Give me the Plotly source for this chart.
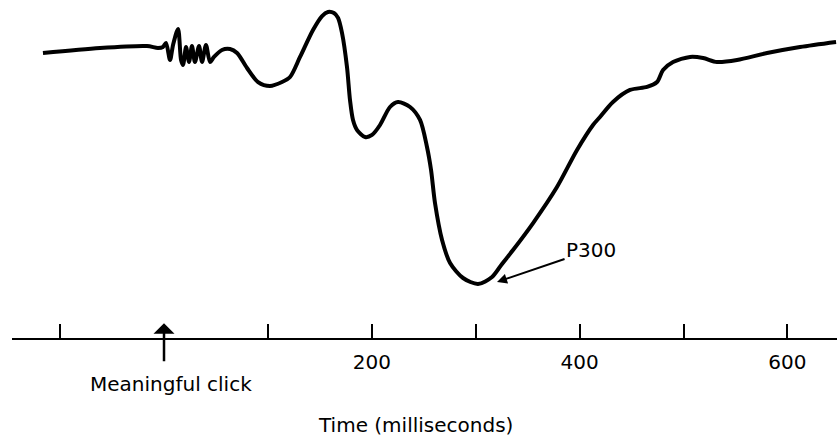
import plotly.graph_objects as go

# Time after the click (ms) and averaged evoked-potential amplitude (µV, positive plotted downward)
time_ms = [-116.5, -61.6, -16.4, -5.8, -1.0, 1.9, 5.8, 8.7, 13.5, 16.4, 18.3, 21.2, 24.1,
           26.9, 29.8, 33.7, 36.6, 40.4, 44.3, 48.1, 55.8, 63.5, 70.3, 79.9, 90.5, 102.0,
           113.6, 121.3, 130.9, 143.4, 152.1, 157.8, 163.6, 167.5, 171.3, 176.1, 179.0,
           181.9, 185.8, 193.5, 200.2, 207.9, 217.5, 225.2, 236.8, 246.4, 253.1, 257.0,
           260.8, 267.6, 275.3, 287.8, 302.2, 315.7, 325.3, 335.9, 355.2, 378.2, 397.5,
           412.9, 419.6, 432.1, 448.5, 464.9, 474.5, 480.3, 489.9, 506.3, 518.8, 532.2,
           551.5, 580.4, 612.1, 646.8]
amplitude = [0.25, -0.17, -0.33, -0.17, -0.25, -0.58, 0.83, -0.42, -1.75, 0.83, 1.25, -0.25, 1.0,
             -0.33, 1.0, -0.33, 1.0, -0.42, 1.0, 0.58, 0.0, -0.08, 0.25, 1.5, 2.67, 3.0,
             2.67, 2.25, 0.58, -1.67, -2.83, -3.17, -3.08, -2.67, -1.42, 1.42, 4.17,
             5.83, 6.67, 7.25, 7.08, 6.25, 4.75, 4.33, 4.75, 5.83, 8.08, 10.0,
             12.75, 15.83, 17.75, 19.0, 19.5, 18.92, 17.83, 16.67, 14.42, 11.42, 8.33,
             6.25, 5.58, 4.33, 3.33, 3.08, 2.67, 1.67, 1.0, 0.58, 0.67, 1.0,
             0.83, 0.25, -0.25, -0.67]

tick_values = [-100, 100, 200, 300, 400, 500, 600]
tick_labels = ["", "", "200", "", "400", "", "600"]

FONT = "DejaVu Sans"

fig = go.Figure()
fig.add_trace(go.Scatter(
    x=time_ms, y=amplitude, mode="lines",
    line=dict(color="black", width=4, shape="spline", smoothing=0.8),
    hoverinfo="skip", showlegend=False,
))

fig.update_layout(
    width=837, height=437,
    margin=dict(l=12, r=0, t=0, b=99),
    paper_bgcolor="white", plot_bgcolor="white",
    font=dict(family=FONT, size=20, color="black"),
    xaxis=dict(
        range=[-146.3, 647.7],
        showgrid=False, zeroline=False,
        showline=True, linecolor="black", linewidth=2,
        ticks="inside", ticklen=14, tickwidth=2, tickcolor="black",
        tickvals=tick_values, ticktext=tick_labels,
        tickfont=dict(family=FONT, size=20, color="black"),
        ticklabelstandoff=5,
    ),
    yaxis=dict(range=[24.0, -4.1667], visible=False),
    annotations=[
        # stimulus arrow at time zero
        dict(x=0, y=0.044, xref="x", yref="paper", text=" ",
             showarrow=True, arrowhead=1, arrowsize=1.4, arrowwidth=2.5,
             arrowcolor="black", ax=0, ay=42, font=dict(size=4)),
        dict(x=7, y=-0.095, xref="x", yref="paper", text="Meaningful click",
             showarrow=False, xanchor="center", yanchor="top",
             font=dict(family=FONT, size=20, color="black")),
        dict(x=242, y=-0.257, xref="x", yref="paper", text="Time (milliseconds)",
             showarrow=False, xanchor="center", yanchor="middle",
             font=dict(family=FONT, size=20, color="black")),
        dict(x=320.5, y=19.33, xref="x", yref="y", text="P300",
             showarrow=True, arrowhead=2, arrowsize=1, arrowwidth=2,
             arrowcolor="black", axref="x", ayref="y", ax=411, ay=16.67,
             font=dict(family=FONT, size=20, color="black")),
    ],
)

fig.write_html("out.html", config={"displayModeBar": False},
               post_script="document.body.style.margin='0';document.body.style.overflow='hidden';")
